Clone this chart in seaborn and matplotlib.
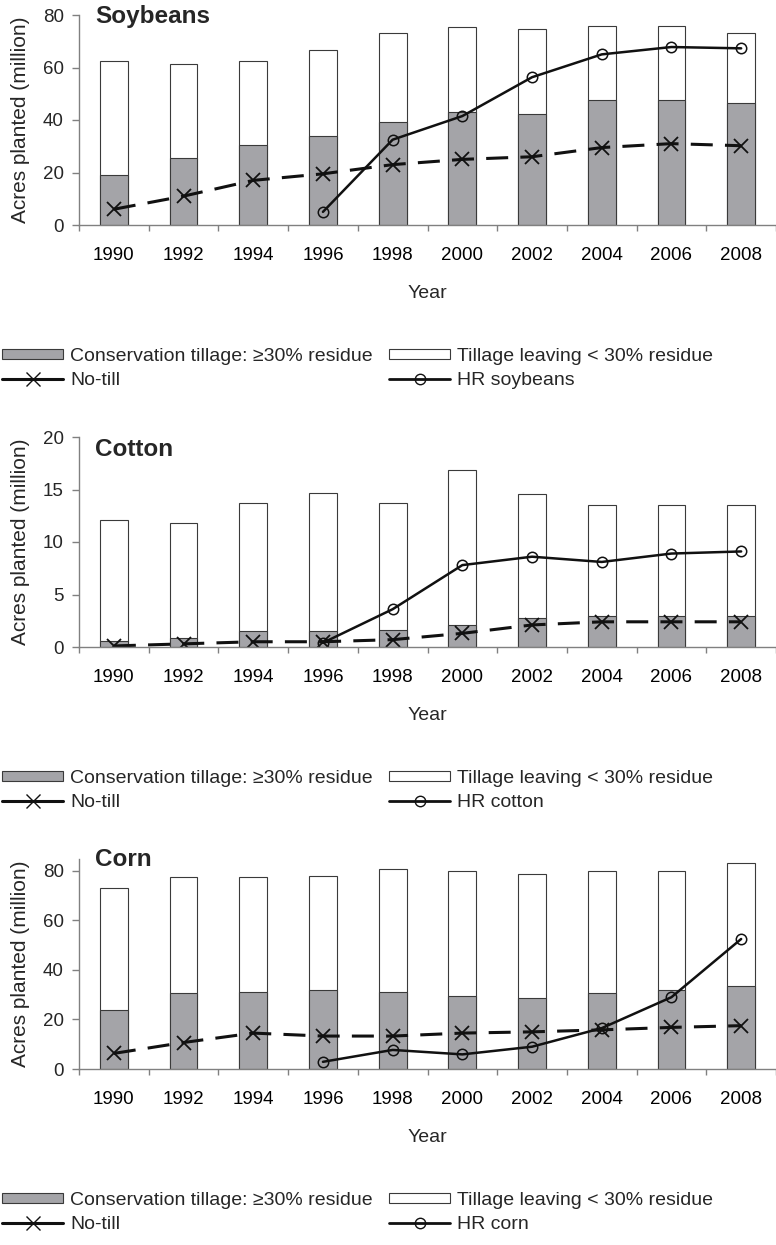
import numpy as np
import pandas as pd
import matplotlib
matplotlib.use("Agg")
import matplotlib.pyplot as plt
import seaborn as sns
from matplotlib.patches import Patch
from matplotlib.lines import Line2D

years = ["1990", "1992", "1994", "1996", "1998", "2000", "2002", "2004", "2006", "2008"]
hr_years = ["1996", "1998", "2000", "2002", "2004", "2006", "2008"]

soy_total = [62.3, 61.2, 62.3, 66.5, 73.0, 75.4, 74.8, 76.0, 76.0, 73.0]
soy_cons = [19.0, 25.5, 30.3, 34.0, 39.3, 43.0, 42.3, 47.5, 47.5, 46.5]
soy_notill = [6.0, 11.0, 17.0, 19.5, 23.0, 25.0, 26.0, 29.5, 31.0, 30.2]
soy_hr = [5.0, 32.5, 41.5, 56.3, 65.0, 67.8, 67.3]

cot_total = [12.1, 11.8, 13.7, 14.7, 13.7, 16.9, 14.6, 13.5, 13.5, 13.5]
cot_cons = [0.6, 0.9, 1.5, 1.5, 1.6, 2.1, 2.8, 3.0, 3.0, 3.0]
cot_notill = [0.1, 0.3, 0.5, 0.5, 0.7, 1.3, 2.1, 2.4, 2.4, 2.4]
cot_hr = [0.4, 3.6, 7.8, 8.6, 8.1, 8.9, 9.1]

corn_total = [73.2, 77.4, 77.4, 78.1, 80.6, 80.0, 78.8, 80.0, 80.0, 83.0]
corn_cons = [23.7, 30.6, 31.1, 31.9, 31.1, 29.3, 28.6, 30.5, 31.9, 33.5]
corn_notill = [6.3, 10.7, 14.5, 13.3, 13.3, 14.5, 15.0, 15.8, 16.8, 17.5]
corn_hr = [2.9, 7.7, 5.9, 9.0, 16.5, 29.0, 52.5]

crops = ["Soybeans", "Cotton", "Corn"]
hr_labels = ["HR soybeans", "HR cotton", "HR corn"]
cons_label = "Conservation tillage: \u226530% residue"
till_label = "Tillage leaving < 30% residue"
notill_label = "No-till"

sns.set_theme(style="ticks")
plt.rcParams["font.family"] = ["Liberation Sans", "DejaVu Sans"]

W, H = 776, 1245
fig = plt.figure(figsize=(W / 100, H / 100), dpi=100)

GREY = "#a4a4a8"
EDGE = "#3a3a3a"
SPINE = "#808080"
INK = "#111111"

TICK_FS = 13.5
LAB_FS = 14
LEG_FS = 14

panels = [
    dict(name=crops[0], total=soy_total, cons=soy_cons, notill=soy_notill, hr=soy_hr,
         hrlab=hr_labels[0], top=15, bot=225, ylim=(0, 80), yticks=[0, 20, 40, 60, 80],
         title_dy=2, leg_top=348),
    dict(name=crops[1], total=cot_total, cons=cot_cons, notill=cot_notill, hr=cot_hr,
         hrlab=hr_labels[1], top=437, bot=647, ylim=(0, 20), yticks=[0, 5, 10, 15, 20],
         title_dy=13, leg_top=770),
    dict(name=crops[2], total=corn_total, cons=corn_cons, notill=corn_notill, hr=corn_hr,
         hrlab=hr_labels[2], top=859, bot=1069, ylim=(0, 84.8), yticks=[0, 20, 40, 60, 80],
         title_dy=0, leg_top=1192),
]

left_px, right_px = 79, 776
aw = right_px - left_px
for p in panels:
    hpx = p["bot"] - p["top"]
    ax = fig.add_axes([left_px / W, 1 - p["bot"] / H, aw / W, hpx / H])
    df = pd.DataFrame({"year": years, "total": p["total"], "cons": p["cons"],
                       "notill": p["notill"]})
    dfh = pd.DataFrame({"year": hr_years, "hr": p["hr"]})

    sns.barplot(data=df, x="year", y="total", order=years, color="white",
                edgecolor=EDGE, linewidth=0.8, width=0.4, saturation=1, ax=ax)
    sns.barplot(data=df, x="year", y="cons", order=years, color=GREY,
                edgecolor=EDGE, linewidth=0.8, width=0.4, saturation=1, ax=ax)
    sns.pointplot(data=df, x="year", y="notill", order=years, color=INK,
                  errorbar=None, marker="x", markersize=10, markeredgewidth=1.3,
                  linestyle=(0, (7.2, 4.0)), linewidth=2.2, ax=ax)
    sns.pointplot(data=dfh, x="year", y="hr", order=years, color=INK,
                  errorbar=None, marker="o", markersize=7.5, markeredgewidth=1.1,
                  markerfacecolor="none", linestyle="-", linewidth=1.8, ax=ax)

    ax.set_xlim(-0.5, 9.5)
    ax.set_ylim(*p["ylim"])
    ax.set_yticks(p["yticks"])
    ax.set_xticks(range(len(years)))
    ax.set_xticklabels(years)
    ax.set_xticks(np.arange(-0.5, 10.0, 1.0), minor=True)
    ax.tick_params(axis="x", which="major", length=0, pad=15.5, labelsize=TICK_FS,
                   colors="black")
    ax.tick_params(axis="x", which="minor", length=4.5, width=1, color=SPINE)
    ax.tick_params(axis="y", length=5, width=1, color=SPINE, labelsize=TICK_FS, pad=6)
    for s in ["top", "right"]:
        ax.spines[s].set_visible(False)
    for s in ["left", "bottom"]:
        ax.spines[s].set_color(SPINE)
        ax.spines[s].set_linewidth(1)
    ax.set_xlabel("Year", fontsize=LAB_FS)
    ax.set_ylabel("Acres planted (million)", fontsize=15)
    ax.xaxis.set_label_coords(0.5, -60 / hpx)
    ax.yaxis.set_label_coords((30 - left_px) / aw, 0.5)
    ax.text(16 / aw, 1 - p["title_dy"] / hpx, p["name"], transform=ax.transAxes,
            fontsize=17.5, fontweight="bold", ha="left", va="center")

    col1 = [
        Patch(facecolor=GREY, edgecolor=EDGE, linewidth=0.8, label=cons_label),
        Line2D([], [], color=INK, lw=2.2, marker="x", markersize=10,
               markeredgewidth=1.0, label=notill_label),
    ]
    col2 = [
        Patch(facecolor="white", edgecolor=EDGE, linewidth=0.8, label=till_label),
        Line2D([], [], color=INK, lw=2.0, marker="o", markersize=7.5,
               markerfacecolor="none", markeredgewidth=1.0, label=p["hrlab"]),
    ]
    for hs, x0 in ((col1, 2), (col2, 389)):
        fig.legend(handles=hs, ncol=1, loc="upper left",
                   bbox_to_anchor=(x0 / W, 1 - p["leg_top"] / H), frameon=False,
                   fontsize=LEG_FS, handlelength=3.15, handleheight=0.42,
                   handletextpad=0.35, labelspacing=0.35, borderpad=0, borderaxespad=0)

fig.savefig("out.png", dpi=100)
